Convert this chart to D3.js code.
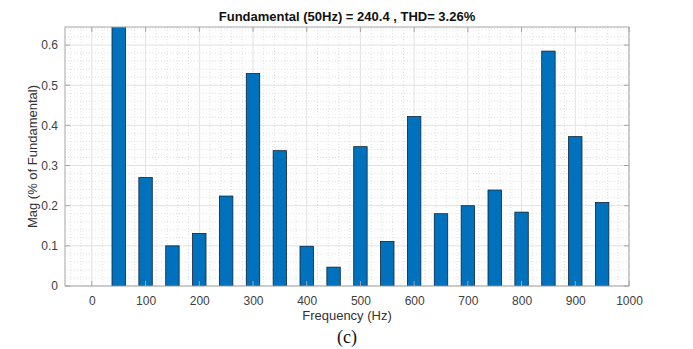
<!DOCTYPE html>
<html>
<head>
<meta charset="utf-8">
<script src="https://cdn.jsdelivr.net/npm/d3@7"></script>
<style>
  body { margin: 0; background: #fff; }
  text { font-family: "Liberation Sans", Arial, sans-serif; }
</style>
</head>
<body>
<div id="container"></div>
<script>
// Harmonic frequencies (Hz) and magnitudes (% of fundamental)
var freqs = [50, 100, 150, 200, 250, 300, 350, 400, 450, 500, 550, 600, 650, 700, 750, 800, 850, 900, 950];
var mags = [0.9, 0.270, 0.100, 0.131, 0.224, 0.529, 0.337, 0.099, 0.047, 0.347, 0.111, 0.422, 0.180, 0.200, 0.239, 0.184, 0.585, 0.372, 0.208];

// Tick values
var xTicks = [0, 100, 200, 300, 400, 500, 600, 700, 800, 900, 1000];
var yTicks = [0, 0.1, 0.2, 0.3, 0.4, 0.5, 0.6];

var titleText = "Fundamental (50Hz) = 240.4 , THD= 3.26%";

var width = 693;
var height = 349;
var margin = {left: 65, top: 27, right: 64, bottom: 63};

var svg = d3.select("#container")
            .append("svg")
            .attr("width", width)
            .attr("height", height);

var xScale = d3.scaleLinear()
               .domain([-50, 1000])
               .range([margin.left, width - margin.right]);

var yScale = d3.scaleLinear()
               .domain([0, 0.645])
               .range([height - margin.bottom, margin.top]);

var x0 = margin.left, x1 = width - margin.right;
var y0 = height - margin.bottom, y1 = margin.top;

// clip so the tall 50 Hz bar is cut at the top of the box
svg.append("clipPath").attr("id", "clip")
   .append("rect")
   .attr("x", x0).attr("y", y1)
   .attr("width", x1 - x0).attr("height", y0 - y1);

// minor grid (dotted)
var xMinor = d3.range(-40, 1000, 20).filter((d) => d % 100 !== 0);
var yMinor = d3.range(0.02, 0.645, 0.02).filter((d) => Math.abs(Math.round(d * 10) - d * 10) > 0.01);

var grid = svg.append("g");
grid.selectAll(".xminor").data(xMinor).enter().append("line")
    .attr("x1", (d) => xScale(d)).attr("x2", (d) => xScale(d))
    .attr("y1", y1).attr("y2", y0)
    .attr("stroke", "#d8d8d8").attr("stroke-dasharray", "1,2").attr("stroke-width", 0.8);
grid.selectAll(".yminor").data(yMinor).enter().append("line")
    .attr("x1", x0).attr("x2", x1)
    .attr("y1", (d) => yScale(d)).attr("y2", (d) => yScale(d))
    .attr("stroke", "#d8d8d8").attr("stroke-dasharray", "1,2").attr("stroke-width", 0.8);

// major grid
grid.selectAll(".xmajor").data(xTicks).enter().append("line")
    .attr("x1", (d) => xScale(d)).attr("x2", (d) => xScale(d))
    .attr("y1", y1).attr("y2", y0)
    .attr("stroke", "#e2e2e2").attr("stroke-width", 1);
grid.selectAll(".ymajor").data(yTicks).enter().append("line")
    .attr("x1", x0).attr("x2", x1)
    .attr("y1", (d) => yScale(d)).attr("y2", (d) => yScale(d))
    .attr("stroke", "#e2e2e2").attr("stroke-width", 1);

// bars
var barW = xScale(25) - xScale(0);
svg.append("g").attr("clip-path", "url(#clip)")
   .selectAll("rect")
   .data(freqs)
   .enter()
   .append("rect")
   .attr("x", (d) => xScale(d) - barW / 2)
   .attr("y", (d, i) => yScale(mags[i]))
   .attr("width", barW)
   .attr("height", (d, i) => yScale(0) - yScale(mags[i]))
   .attr("fill", "#0072BD")
   .attr("stroke", "#0d2438")
   .attr("stroke-width", 0.8);

// axes (MATLAB style: ticks inside, box all round)
var axisColor = "#a6a6a6";
var tickLen = 5;

var xAxis = d3.axisBottom(xScale).tickValues(xTicks).tickSize(0).tickPadding(10).tickFormat(d3.format("d"));
var yAxis = d3.axisLeft(yScale).tickValues(yTicks).tickSize(0).tickPadding(7)
              .tickFormat((d) => d === 0 ? "0" : d3.format(".1f")(d));

var gx = svg.append("g").attr("transform", "translate(0," + y0 + ")").call(xAxis);
var gy = svg.append("g").attr("transform", "translate(" + x0 + ",0)").call(yAxis);
[gx, gy].forEach(function(g) {
  g.select(".domain").remove();
  g.selectAll("text").attr("fill", "#404040").style("font-size", "12px");
});

// inner ticks
var ticks = svg.append("g").attr("stroke", axisColor).attr("stroke-width", 1);
ticks.selectAll(".tt").data(xTicks).enter().append("line")
     .attr("x1", (d) => xScale(d)).attr("x2", (d) => xScale(d))
     .attr("y1", y1).attr("y2", y1 + tickLen);
ticks.selectAll(".tb").data(xTicks).enter().append("line")
     .attr("x1", (d) => xScale(d)).attr("x2", (d) => xScale(d))
     .attr("y1", y0).attr("y2", y0 - tickLen);
ticks.selectAll(".tl").data(yTicks).enter().append("line")
     .attr("x1", x0).attr("x2", x0 + tickLen)
     .attr("y1", (d) => yScale(d)).attr("y2", (d) => yScale(d));
ticks.selectAll(".tr").data(yTicks).enter().append("line")
     .attr("x1", x1).attr("x2", x1 - tickLen)
     .attr("y1", (d) => yScale(d)).attr("y2", (d) => yScale(d));

// box
svg.append("rect")
   .attr("x", x0).attr("y", y1)
   .attr("width", x1 - x0).attr("height", y0 - y1)
   .attr("fill", "none").attr("stroke", axisColor).attr("stroke-width", 1);

// labels
svg.append("text")
   .attr("x", (x0 + x1) / 2).attr("y", 21)
   .attr("text-anchor", "middle")
   .style("font-size", "13px").style("font-weight", "bold")
   .attr("fill", "#111")
   .text(titleText);

svg.append("text")
   .attr("x", (x0 + x1) / 2).attr("y", 320)
   .attr("text-anchor", "middle")
   .style("font-size", "13px")
   .attr("fill", "#333")
   .text("Frequency (Hz)");

svg.append("text")
   .attr("transform", "translate(37," + ((y0 + y1) / 2) + ") rotate(-90)")
   .attr("text-anchor", "middle")
   .style("font-size", "13px")
   .attr("fill", "#333")
   .text("Mag (% of Fundamental)");

svg.append("text")
   .attr("x", (x0 + x1) / 2).attr("y", 343)
   .attr("text-anchor", "middle")
   .style("font-family", "'Liberation Serif', 'Times New Roman', serif")
   .style("font-size", "18px")
   .attr("fill", "#111")
   .text("(c)");
</script>
</body>
</html>
